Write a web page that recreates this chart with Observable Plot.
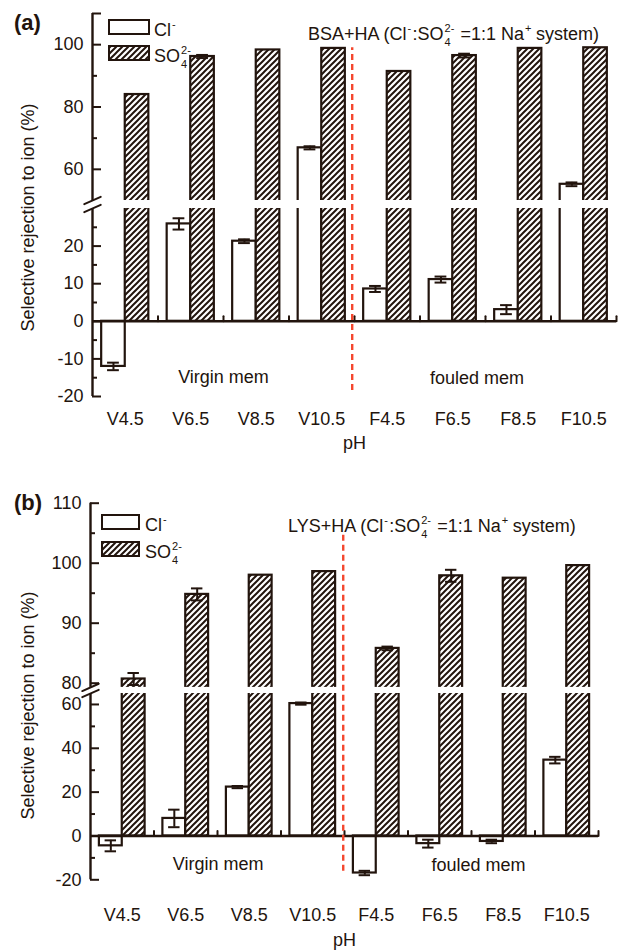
<!DOCTYPE html>
<html><head><meta charset="utf-8">
<script src="https://cdn.jsdelivr.net/npm/d3@7"></script>
<script src="https://cdn.jsdelivr.net/npm/@observablehq/plot@0.6"></script>
<style>
html,body{margin:0;padding:0;background:#fff;}
#root{position:relative;width:618px;height:951px;overflow:hidden;font-family:"Liberation Sans",Arial,Helvetica,sans-serif;color:#22140d;}
.panel{position:absolute;left:0;}
.abs{position:absolute;white-space:nowrap;font-size:18px;line-height:18px;}
.tag{position:absolute;font-weight:bold;font-size:22px;line-height:26px;}
.box{position:absolute;box-sizing:border-box;border:2px solid #22140d;background:#fff;}
.ss{position:relative;display:inline-block;height:18px;vertical-align:baseline;}
.ss .up{position:absolute;left:1px;top:1px;font-size:11px;line-height:11px;}
.ss .dn{position:absolute;left:1px;top:15px;font-size:11px;line-height:11px;}
</style></head>
<body>
<svg width="0" height="0" style="position:absolute">
  <defs>
    <pattern id="hatch" patternUnits="userSpaceOnUse" width="6" height="6">
      <rect width="6" height="6" fill="#fff"/>
      <path d="M-1,1 l2,-2 M0,6 l6,-6 M5,7 l2,-2" stroke="#22140d" stroke-width="2"/>
    </pattern>
  </defs>
</svg>
<div id="root"></div>
<script>
// ---------- data ----------
const groups = ["V4.5", "V6.5", "V8.5", "V10.5", "F4.5", "F6.5", "F8.5", "F10.5"];
const ions = ["Cl-", "SO4 2-"];

// panel (a) BSA+HA
const clA     = [-12.0, 25.9, 21.3, 66.9, 8.6, 11.1, 3.1, 55.2];
const clErrA  = [1.0, 1.5, 0.5, 0.5, 0.8, 0.8, 1.2, 0.6];
const so4A    = [84.0, 96.2, 98.3, 98.8, 91.4, 96.5, 98.8, 99.0];
const so4ErrA = [0, 0.5, 0, 0, 0, 0.6, 0, 0];

// panel (b) LYS+HA
const clB     = [-4.5, 8.0, 22.3, 60.4, -16.9, -3.5, -2.5, 34.6];
const clErrB  = [2.5, 4.0, 0.5, 0.5, 1.0, 1.8, 0.8, 1.5];
const so4B    = [80.7, 94.8, 98.0, 98.6, 85.8, 97.9, 97.5, 99.6];
const so4ErrB = [1.0, 1.0, 0, 0, 0.3, 1.0, 0, 0];

// axis ticks
const labeledTicksA = [-20, -10, 0, 10, 20, 60, 80, 100];
const extraTicksA   = [110];
const minorTicksA   = [-15, -5, 5, 15, 25, 70, 90];
const labeledTicksB = [-20, 0, 20, 40, 60, 80, 90, 100, 110];
const extraTicksB   = [];
const minorTicksB   = [-10, 10, 30, 50, 85, 95, 105];

const memTexts = ["Virgin mem", "fouled mem"];
const yLabel = "Selective rejection to ion (%)";
const xLabel = "pH";

// ---------- style ----------
const ink = "#22140d";
const red = "#f4472e";
const FONT = '"Liberation Sans", Arial, Helvetica, sans-serif';
const SLOT0 = 0.14, SLOTW = 0.36, CAP = 0.09;
const lineShape = {draw(ctx, l) { ctx.moveTo(0, 0); ctx.lineTo(0, -l); }};

function makePanel(p) {
  const rows = groups.flatMap((g, i) => [
    {g, i, ion: ions[0], slot: 0, v: p.cl[i], e: p.clErr[i]},
    {g, i, ion: ions[1], slot: 1, v: p.so4[i], e: p.so4Err[i]}
  ]);
  const bx1 = d => d.i + SLOT0 + d.slot * SLOTW;
  const bx2 = d => bx1(d) + SLOTW;
  const bc = d => bx1(d) + SLOTW / 2;
  const errRows = rows.filter(d => d.e > 0);
  const n = groups.length;
  return Plot.plot({
    width: 618, height: p.height,
    marginLeft: p.ml, marginRight: p.mr, marginTop: p.mt, marginBottom: p.mb,
    style: {fontFamily: FONT, fontSize: "18px", color: ink, background: "transparent", overflow: "visible"},
    x: {type: "linear", domain: [0, n], axis: null},
    y: {type: "linear", domain: p.yDomain, range: p.yRange, axis: null},
    color: {type: "ordinal", domain: ions, range: ["#ffffff", "url(#hatch)"]},
    marks: [
      Plot.rect(rows, {x1: bx1, x2: bx2, y1: () => 0, y2: d => d.v, fill: d => d.ion, stroke: ink, strokeWidth: 2.2}),
      Plot.rect([p.gap], {x1: () => 0, x2: () => n, y1: d => d[0], y2: d => d[1], fill: "white"}),
      Plot.ruleX(errRows, {x: bc, y1: d => d.v - d.e, y2: d => d.v + d.e, stroke: ink, strokeWidth: 2}),
      Plot.ruleY(errRows, {y: d => d.v + d.e, x1: d => bc(d) - CAP, x2: d => bc(d) + CAP, stroke: ink, strokeWidth: 2}),
      Plot.ruleY(errRows, {y: d => d.v - d.e, x1: d => bc(d) - CAP, x2: d => bc(d) + CAP, stroke: ink, strokeWidth: 2}),
      Plot.ruleY([0], {x1: () => 0, x2: () => n, stroke: ink, strokeWidth: 2.4}),
      Plot.vector(d3.range(1, n + 1), {x: d => d, y: () => 0, length: 5, anchor: "start", shape: lineShape, stroke: ink, strokeWidth: 2}),
      Plot.ruleX(p.axisSegs, {x: () => 0, y1: d => d[0], y2: d => d[1], stroke: ink, strokeWidth: 2.4}),
      Plot.axisY(p.labeled, {tickSize: -9, tickPadding: 18, tickFormat: d => String(d), label: null, strokeWidth: 2, fontSize: 18}),
      Plot.axisY(p.extra, {tickSize: -9, tickFormat: () => "", label: null, strokeWidth: 2}),
      Plot.axisY(p.minor, {tickSize: -5, tickFormat: () => "", label: null, strokeWidth: 2}),
      Plot.vector(p.gap, {x: () => 0, y: d => d, length: 18, rotate: 66, anchor: "middle", shape: lineShape, stroke: ink, strokeWidth: 2}),
      Plot.ruleX([p.redX], {x: d => d, y1: () => p.red[0], y2: () => p.red[1], stroke: red, strokeWidth: 2.4, strokeDasharray: "6,4"}),
      Plot.axisX(groups.map((g, i) => i + 0.5), {tickSize: 0, tickPadding: p.xPad, tickFormat: d => groups[Math.floor(d)], label: null, fontSize: 18}),
      Plot.text([xLabel], {frameAnchor: "bottom", dy: p.pHdy, lineAnchor: "middle", textAnchor: "middle", text: d => d, fontSize: 18}),
      Plot.text(memTexts, {x: (d, i) => p.memPos[i][0], y: (d, i) => p.memPos[i][1], text: d => d, fontSize: 18}),
      Plot.text([yLabel], {frameAnchor: "top-left", dx: p.ylab[0] - p.ml, dy: p.ylab[1] - p.mt, rotate: -90, textAnchor: "middle", lineAnchor: "middle", text: d => d, fontSize: 18})
    ]
  });
}

const root = document.getElementById("root");

const panelA = makePanel({
  cl: clA, clErr: clErrA, so4: so4A, so4Err: so4ErrA,
  height: 455, ml: 92, mr: 2, mt: 13, mb: 59,
  yDomain: [-20, 30, 50, 110], yRange: [396, 208, 200, 13],
  gap: [30, 50], axisSegs: [[-20, 30], [50, 110]],
  labeled: labeledTicksA, extra: extraTicksA, minor: minorTicksA,
  redX: 3.965, red: [-18.4, 99],
  xPad: 16, pHdy: 47,
  memPos: [[2, -14.9], [5.87, -15.2]],
  ylab: [28, 217]
});
const panelB = makePanel({
  cl: clB, clErr: clErrB, so4: so4B, so4Err: so4ErrB,
  height: 491, ml: 90, mr: 20, mt: 42.7, mb: 71.7,
  yDomain: [-20, 65, 79.3, 110], yRange: [419.3, 233, 226.9, 42.7],
  gap: [65, 79.3], axisSegs: [[-20, 65], [79.3, 110]],
  labeled: labeledTicksB, extra: extraTicksB, minor: minorTicksB,
  redX: 3.98, red: [-16.1, 104.9],
  xPad: 28.5, pHdy: 60.7,
  memPos: [[2.01, -12.8], [6.11, -13.2]],
  ylab: [28, 245]
});
panelA.classList.add("panel"); panelA.style.top = "0px";
panelB.classList.add("panel"); panelB.style.top = "460px";
root.appendChild(panelA);
root.appendChild(panelB);

// ---------- overlay: panel tags, legends, annotations ----------
const supMinus = '<span class="ss" style="width:6px"><span class="up">-</span></span>';
const supPlus = '<span class="ss" style="width:7px"><span class="up">+</span></span>';
const so4Html = 'SO<span class="ss" style="width:12px"><span class="up">2-</span><span class="dn">4</span></span>';
const clHtml = 'Cl' + supMinus;

function addDiv(cls, left, top, html, extra) {
  const d = document.createElement("div");
  d.className = cls;
  d.style.left = left + "px";
  d.style.top = top + "px";
  if (extra) Object.assign(d.style, extra);
  d.innerHTML = html;
  root.appendChild(d);
  return d;
}
function legend(bx, by1, by2, bw, bh, tx) {
  addDiv("box", bx, by1, "", {width: bw + "px", height: bh + "px"});
  const b2 = addDiv("box", bx, by2, "", {width: bw + "px", height: bh + "px", background: "none"});
  b2.innerHTML = `<svg width="${bw - 4}" height="${bh - 4}" style="display:block"><rect width="100%" height="100%" fill="url(#hatch)"/></svg>`;
  addDiv("abs", tx, by1 + bh / 2 - 9, clHtml);
  addDiv("abs", tx, by2 + bh / 2 - 9, so4Html);
}

addDiv("tag", 14, 10, "(a)");
legend(108, 19, 45, 42, 16, 154);
addDiv("abs", 308, 22, `BSA+HA (${clHtml}:${so4Html} =1:1 Na${supPlus} system)`);

addDiv("tag", 14, 490, "(b)");
legend(101, 514, 541, 39, 16, 145);
addDiv("abs", 288, 514, `LYS+HA (${clHtml}:${so4Html} =1:1 Na${supPlus} system)`);
</script>
</body></html>
